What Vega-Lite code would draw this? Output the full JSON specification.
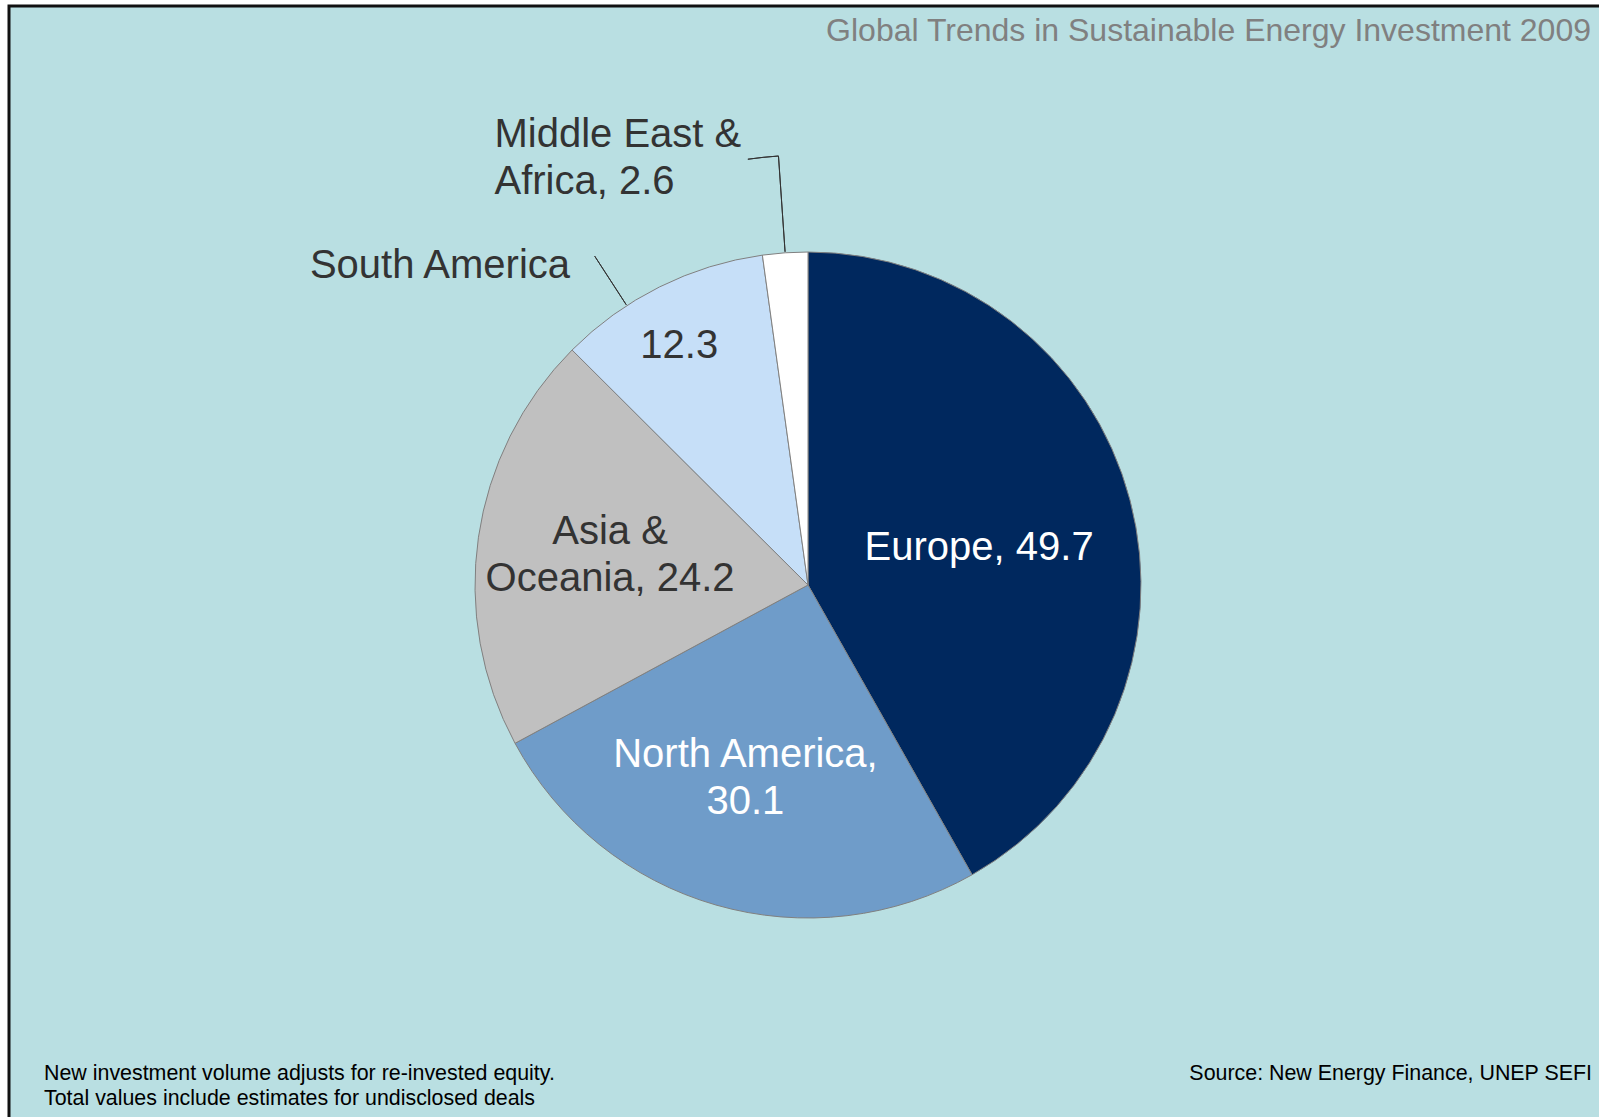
{
  "$schema": "https://vega.github.io/schema/vega-lite/v6.json",
  "width": 1598,
  "height": 1158,
  "autosize": {"type": "none"},
  "padding": {"left": 9, "top": 6, "right": -8, "bottom": -47},
  "background": "#ffffff",
  "config": {
    "view": {"stroke": null},
    "font": "Liberation Sans"
  },
  "datasets": {
    "regions": [
      {"region": "Europe", "value": 49.7, "rank": 1, "label": "Europe, 49.7"},
      {"region": "North America", "value": 30.1, "rank": 2, "label": ["North America,", "30.1"]},
      {"region": "Asia & Oceania", "value": 24.2, "rank": 3, "label": ["Asia &", "Oceania, 24.2"]},
      {"region": "South America", "value": 12.3, "rank": 4, "label": "South America"},
      {"region": "Middle East & Africa", "value": 2.6, "rank": 5, "label": ["Middle East &", "Africa, 2.6"]}
    ],
    "notes": [
      {"side": "title", "note": "Global Trends in Sustainable Energy Investment 2009"},
      {"side": "left", "note": ["New investment volume adjusts for re-invested equity.", "Total values include estimates for undisclosed deals"]},
      {"side": "right", "note": "Source: New Energy Finance, UNEP SEFI"}
    ],
    "frame": [{"name": "frame"}]
  },
  "layer": [
    {
      "data": {"name": "frame"},
      "mark": {"type": "rect", "fill": "#B9DFE2", "stroke": "#111111", "strokeWidth": 3},
      "encoding": {
        "x": {"value": 0},
        "x2": {"value": "width"},
        "y": {"value": 0},
        "y2": {"value": "height"}
      }
    },
    {
      "data": {"name": "regions"},
      "transform": [
        {"stack": "value", "groupby": [], "sort": [{"field": "rank", "order": "ascending"}], "as": ["v0", "v1"]},
        {"calculate": "(datum.v0 + datum.v1) / 2", "as": "mid"}
      ],
      "layer": [
        {
          "mark": {"type": "arc", "radius": 333, "stroke": "#808080", "strokeWidth": 1},
          "encoding": {
            "theta": {"field": "value", "type": "quantitative", "stack": true, "scale": {"nice": false, "zero": true}},
            "order": {"field": "rank", "type": "quantitative"},
            "color": {
              "field": "region",
              "type": "nominal",
              "scale": {
                "domain": ["Europe", "North America", "Asia & Oceania", "South America", "Middle East & Africa"],
                "range": ["#00285E", "#6F9CC9", "#C0C0C0", "#C6DFF8", "#FFFFFF"]
              },
              "legend": null
            }
          }
        },
        {
          "transform": [{"filter": "datum.region === 'Middle East & Africa'"}],
          "mark": {"type": "arc", "radius": 430, "radius2": 334, "filled": false, "stroke": "#333333", "strokeWidth": 1},
          "encoding": {
            "theta": {"field": "mid", "type": "quantitative", "stack": null},
            "theta2": {"field": "mid"}
          }
        },
        {
          "transform": [{"filter": "datum.region === 'Middle East & Africa'"}],
          "mark": {"type": "arc", "radius": 430, "radius2": 430, "filled": false, "stroke": "#333333", "strokeWidth": 1, "theta2Offset": -0.0716},
          "encoding": {
            "theta": {"field": "mid", "type": "quantitative", "stack": null},
            "theta2": {"field": "mid"}
          }
        },
        {
          "transform": [{"filter": "datum.region === 'South America'"}],
          "mark": {"type": "arc", "radius": 392, "radius2": 334, "filled": false, "stroke": "#333333", "strokeWidth": 1, "thetaOffset": -0.113, "theta2Offset": -0.113},
          "encoding": {
            "theta": {"field": "mid", "type": "quantitative", "stack": null},
            "theta2": {"field": "mid"}
          }
        },
        {
          "transform": [{"filter": "datum.region === 'Europe'"}],
          "mark": {"type": "text", "radius": 178, "dx": -1, "dy": 8, "fontSize": 40, "color": "#ffffff", "align": "center", "baseline": "middle", "lineHeight": 47},
          "encoding": {"theta": {"field": "mid", "type": "quantitative"}, "text": {"field": "label"}}
        },
        {
          "transform": [{"filter": "datum.region === 'North America'"}],
          "mark": {"type": "text", "radius": 201, "dx": -7, "dy": -23.5, "fontSize": 40, "color": "#ffffff", "align": "center", "baseline": "middle", "lineHeight": 47},
          "encoding": {"theta": {"field": "mid", "type": "quantitative"}, "text": {"field": "label"}}
        },
        {
          "transform": [{"filter": "datum.region === 'Asia & Oceania'"}],
          "mark": {"type": "text", "radius": 200, "dx": 0, "dy": -24.5, "fontSize": 40, "color": "#333333", "align": "center", "baseline": "middle", "lineHeight": 47},
          "encoding": {"theta": {"field": "mid", "type": "quantitative"}, "text": {"field": "label"}}
        },
        {
          "transform": [{"filter": "datum.region === 'South America'"}],
          "mark": {"type": "text", "radius": 273, "dx": -7, "dy": 5, "fontSize": 40, "color": "#333333", "align": "center", "baseline": "middle"},
          "encoding": {"theta": {"field": "mid", "type": "quantitative"}, "text": {"field": "value", "type": "quantitative", "format": ".1f"}}
        },
        {
          "transform": [{"filter": "datum.region === 'South America'"}],
          "mark": {"type": "text", "radius": 390, "dx": -64, "dy": 30, "fontSize": 40, "color": "#333333", "align": "right", "baseline": "middle"},
          "encoding": {"theta": {"field": "mid", "type": "quantitative"}, "text": {"field": "label"}}
        },
        {
          "transform": [{"filter": "datum.region === 'Middle East & Africa'"}],
          "mark": {"type": "text", "radius": 430, "dx": -284, "dy": -21.5, "fontSize": 40, "color": "#333333", "align": "left", "baseline": "middle", "lineHeight": 47},
          "encoding": {"theta": {"field": "mid", "type": "quantitative"}, "text": {"field": "label"}}
        }
      ]
    },
    {
      "data": {"name": "notes"},
      "transform": [{"filter": "datum.side === 'title'"}],
      "mark": {"type": "text", "x": 1582, "y": 35, "align": "right", "baseline": "alphabetic", "fontSize": 32, "color": "#808080"},
      "encoding": {"text": {"field": "note"}}
    },
    {
      "data": {"name": "notes"},
      "transform": [{"filter": "datum.side === 'left'"}],
      "mark": {"type": "text", "x": 35, "y": 1074, "align": "left", "baseline": "alphabetic", "fontSize": 21.4, "lineHeight": 25, "color": "#000000"},
      "encoding": {"text": {"field": "note"}}
    },
    {
      "data": {"name": "notes"},
      "transform": [{"filter": "datum.side === 'right'"}],
      "mark": {"type": "text", "x": 1583, "y": 1074, "align": "right", "baseline": "alphabetic", "fontSize": 21.4, "color": "#000000"},
      "encoding": {"text": {"field": "note"}}
    }
  ]
}
